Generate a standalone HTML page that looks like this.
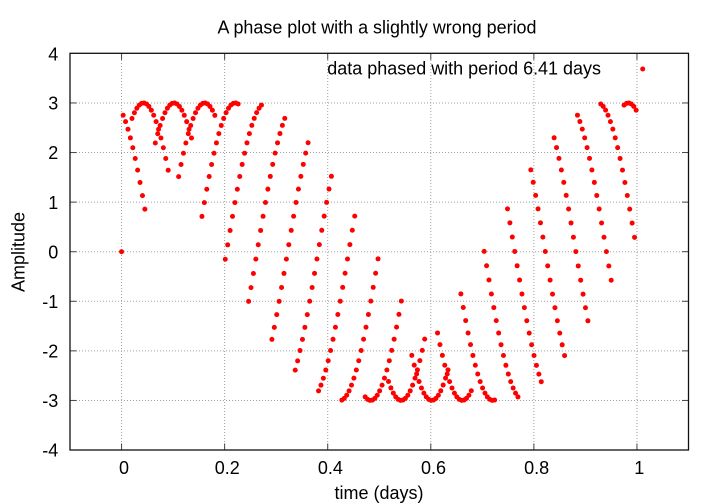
<!DOCTYPE html>
<html>
<head>
<meta charset="utf-8">
<style>
  html,body{margin:0;padding:0;background:#fff;}
  svg{display:block;}
  text{font-family:"Liberation Sans",Arial,sans-serif;fill:#000;}
</style>
</head>
<body>
<svg id="chart" xmlns="http://www.w3.org/2000/svg" width="720" height="504" viewBox="0 0 720 504">
  <rect x="0" y="0" width="720" height="504" fill="#fff"/>
  <!-- grid -->
  <g stroke="#a0a0a0" stroke-width="1" stroke-dasharray="1 2" fill="none">
    <line x1="121.55" y1="54" x2="121.55" y2="450"/>
    <line x1="224.63" y1="54" x2="224.63" y2="450"/>
    <line x1="327.71" y1="54" x2="327.71" y2="450"/>
    <line x1="430.79" y1="54" x2="430.79" y2="450"/>
    <line x1="533.87" y1="54" x2="533.87" y2="450"/>
    <line x1="636.95" y1="54" x2="636.95" y2="450"/>
    <line x1="70" y1="102.96" x2="688.5" y2="102.96"/>
    <line x1="70" y1="152.54" x2="688.5" y2="152.54"/>
    <line x1="70" y1="202.12" x2="688.5" y2="202.12"/>
    <line x1="70" y1="251.7" x2="688.5" y2="251.7"/>
    <line x1="70" y1="301.28" x2="688.5" y2="301.28"/>
    <line x1="70" y1="350.86" x2="688.5" y2="350.86"/>
    <line x1="70" y1="400.44" x2="688.5" y2="400.44"/>
  </g>
  <!-- ticks -->
  <g stroke="#444" stroke-width="1" fill="none">
    <line x1="121.55" y1="450" x2="121.55" y2="443.5"/>
    <line x1="224.63" y1="450" x2="224.63" y2="443.5"/>
    <line x1="327.71" y1="450" x2="327.71" y2="443.5"/>
    <line x1="430.79" y1="450" x2="430.79" y2="443.5"/>
    <line x1="533.87" y1="450" x2="533.87" y2="443.5"/>
    <line x1="636.95" y1="450" x2="636.95" y2="443.5"/>
    <line x1="121.55" y1="53.3" x2="121.55" y2="59.8"/>
    <line x1="224.63" y1="53.3" x2="224.63" y2="59.8"/>
    <line x1="327.71" y1="53.3" x2="327.71" y2="59.8"/>
    <line x1="430.79" y1="53.3" x2="430.79" y2="59.8"/>
    <line x1="533.87" y1="53.3" x2="533.87" y2="59.8"/>
    <line x1="636.95" y1="53.3" x2="636.95" y2="59.8"/>
    <line x1="70" y1="102.96" x2="76.5" y2="102.96"/>
    <line x1="70" y1="152.54" x2="76.5" y2="152.54"/>
    <line x1="70" y1="202.12" x2="76.5" y2="202.12"/>
    <line x1="70" y1="251.7" x2="76.5" y2="251.7"/>
    <line x1="70" y1="301.28" x2="76.5" y2="301.28"/>
    <line x1="70" y1="350.86" x2="76.5" y2="350.86"/>
    <line x1="70" y1="400.44" x2="76.5" y2="400.44"/>
    <line x1="688.5" y1="102.96" x2="682" y2="102.96"/>
    <line x1="688.5" y1="152.54" x2="682" y2="152.54"/>
    <line x1="688.5" y1="202.12" x2="682" y2="202.12"/>
    <line x1="688.5" y1="251.7" x2="682" y2="251.7"/>
    <line x1="688.5" y1="301.28" x2="682" y2="301.28"/>
    <line x1="688.5" y1="350.86" x2="682" y2="350.86"/>
    <line x1="688.5" y1="400.44" x2="682" y2="400.44"/>
  </g>
  <!-- border -->
  <rect x="70" y="53.3" width="618.5" height="396.7" fill="none" stroke="#111" stroke-width="1.3"/>
  <!-- data points -->
  <g id="pts" fill="#ff0000"></g>
  <!-- key sample -->
  <circle cx="642.7" cy="69" r="2.5" fill="#ff0000"/>
  <!-- title -->
  <text x="217.5" y="33.3" font-size="18" textLength="319" lengthAdjust="spacingAndGlyphs">A phase plot with a slightly wrong period</text>
  <!-- key text -->
  <text x="327.3" y="74.5" font-size="18" textLength="273.7" lengthAdjust="spacingAndGlyphs">data phased with period 6.41 days</text>
  <!-- y tick labels -->
  <g font-size="18" text-anchor="end">
    <text x="58.3" y="60.5">4</text>
    <text x="58.3" y="109.6">3</text>
    <text x="58.3" y="159.2">2</text>
    <text x="58.3" y="208.8">1</text>
    <text x="58.3" y="258.3">0</text>
    <text x="58.3" y="307.9">-1</text>
    <text x="58.3" y="357.5">-2</text>
    <text x="58.3" y="407.1">-3</text>
    <text x="58.3" y="456.7">-4</text>
  </g>
  <!-- x tick labels -->
  <g font-size="18" text-anchor="middle">
    <text x="124" y="474">0</text>
    <text x="227.3" y="474">0.2</text>
    <text x="330.4" y="474">0.4</text>
    <text x="433.5" y="474">0.6</text>
    <text x="536.6" y="474">0.8</text>
    <text x="639.2" y="474">1</text>
  </g>
  <!-- axis labels -->
  <text x="379" y="499" font-size="18" text-anchor="middle">time (days)</text>
  <text transform="translate(24.5,252) rotate(-90)" font-size="18" text-anchor="middle">Amplitude</text>
</svg>
<script>
(function(){
  var g = document.getElementById('pts');
  var ns = 'http://www.w3.org/2000/svg';
  for (var i = 0; i < 345; i++) {
    var t = i * 0.29;
    var q = t / 6.41;
    var ph = q - Math.floor(q);
    var y = 3 * Math.sin(t);
    var px = 121.55 + 515.4 * ph;
    var py = 251.7 - 49.58 * y;
    var c = document.createElementNS(ns, 'circle');
    c.setAttribute('cx', px.toFixed(2));
    c.setAttribute('cy', py.toFixed(2));
    c.setAttribute('r', '2.5');
    g.appendChild(c);
  }
})();
</script>
</body>
</html>
